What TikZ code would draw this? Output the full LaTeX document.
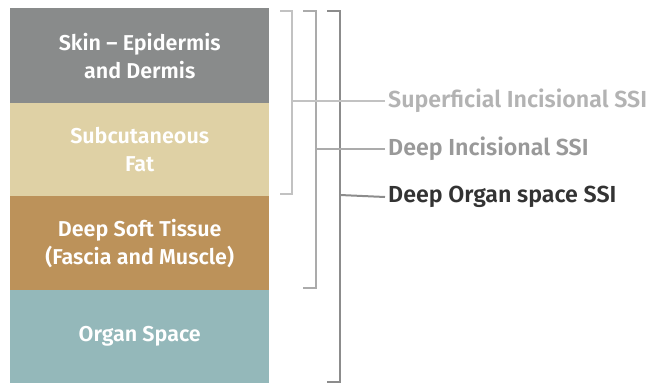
\documentclass[tikz,border=0pt]{standalone}
\usepackage{fontspec}
\setmainfont{Fira Sans}[BoldFont={Fira Sans SemiBold}]
\definecolor{cskin}{HTML}{898B8B}
\definecolor{cfat}{HTML}{DFD1A5}
\definecolor{cdeep}{HTML}{BC925A}
\definecolor{corgan}{HTML}{94B8BA}
\definecolor{bone}{HTML}{C2C2C2}
\definecolor{btwo}{HTML}{ABABAB}
\definecolor{bthree}{HTML}{8C8C8C}
\definecolor{tone}{HTML}{B3B3B3}
\definecolor{ttwo}{HTML}{999999}
\definecolor{tthree}{HTML}{333333}
\begin{document}
\begin{tikzpicture}[x=1pt,y=-1pt,
  layer/.style={draw=none,minimum width=259pt,inner sep=0pt,text=white,
    font=\fontsize{21.5}{28}\selectfont\bfseries,align=center,anchor=north west},
  brk/.style={line width=2pt},
  lbl/.style={anchor=west,inner sep=0pt,font=\fontsize{23.2}{26}\selectfont\bfseries}]
\useasboundingbox (0,0) rectangle (650,383);
\node[layer,fill=cskin,minimum height=95pt] (skin) at (10,8) {Skin -- Epidermis\\and Dermis};
\node[layer,fill=cfat,minimum height=93pt] (fat) at (10,103) {Subcutaneous\\Fat};
\node[layer,fill=cdeep,minimum height=94pt] (deep) at (10,196) {Deep Soft Tissue\\(Fascia and Muscle)};
\node[layer,fill=corgan,minimum height=93pt] (organ) at (10,290) {Organ Space};
% labels
\node[lbl,text=tone] (sup) at (388,101) {Superficial Incisional SSI};
\node[lbl,text=ttwo] (di) at (388,149) {Deep Incisional SSI};
\node[lbl,text=tthree] (dos) at (388,197) {Deep Organ space SSI};
% brackets
\coordinate (b1) at (292,101);
\coordinate (b2) at (316,149);
\coordinate (b3) at (340,195);
\draw[brk,draw=bone] (280,11) -- (292,11) -- (292,194) -- (280,194);
\draw[brk,draw=btwo] (303,11) -- (316,11) -- (316,288) -- (303,288);
\draw[brk,draw=bthree] (327,11) -- (340,11) -- (340,382) -- (327,382);
\draw[brk,draw=bone] (b1) -- ([xshift=-3pt]sup.west);
\draw[brk,draw=btwo] (b2) -- ([xshift=-3pt]di.west);
\draw[brk,draw=bthree] (b3) -- ([xshift=-3pt]dos.west);
\end{tikzpicture}
\end{document}
